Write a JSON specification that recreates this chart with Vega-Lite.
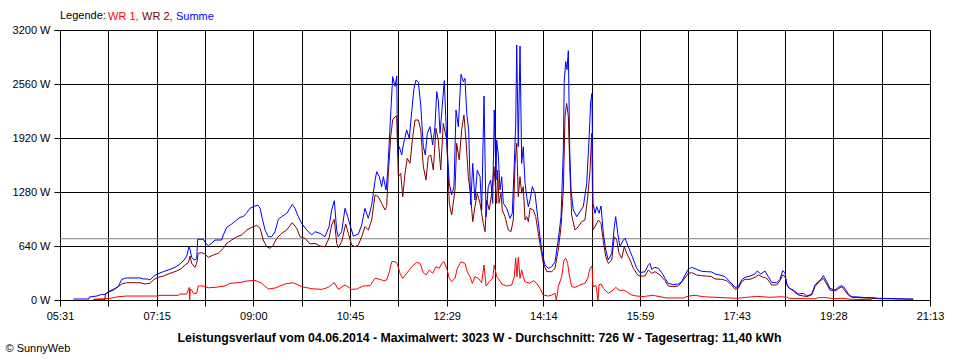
{
"$schema": "https://vega.github.io/schema/vega-lite/v6.json",
"width": 870, "height": 270,
"autosize": "none",
"padding": {"left": 60, "top": 30, "right": 30, "bottom": 60},
"background": "white",
"config": {"font": "Liberation Sans", "view": {"stroke": null}},
"datasets": {
"avg": [{"s": "Durchschnitt", "t": 331, "w": 726}, {"s": "Durchschnitt", "t": 1273, "w": 726}],
"wr1": [{"s":"WR 1","t":367.1,"w":8},{"s":"WR 1","t":385.1,"w":20},{"s":"WR 1","t":394.1,"w":39},{"s":"WR 1","t":403.2,"w":47},{"s":"WR 1","t":435.7,"w":47},{"s":"WR 1","t":439.3,"w":55},{"s":"WR 1","t":459.1,"w":55},{"s":"WR 1","t":460.9,"w":71},{"s":"WR 1","t":468.2,"w":71},{"s":"WR 1","t":471.0,"w":150},{"s":"WR 1","t":471.4,"w":0},{"s":"WR 1","t":472.1,"w":130},{"s":"WR 1","t":473.6,"w":118},{"s":"WR 1","t":475.3,"w":79},{"s":"WR 1","t":479.0,"w":79},{"s":"WR 1","t":480.7,"w":166},{"s":"WR 1","t":486.2,"w":166},{"s":"WR 1","t":491.6,"w":145},{"s":"WR 1","t":498.8,"w":150},{"s":"WR 1","t":509.7,"w":166},{"s":"WR 1","t":515.1,"w":198},{"s":"WR 1","t":524.1,"w":205},{"s":"WR 1","t":533.2,"w":225},{"s":"WR 1","t":542.1,"w":233},{"s":"WR 1","t":549.4,"w":198},{"s":"WR 1","t":556.5,"w":130},{"s":"WR 1","t":563.8,"w":142},{"s":"WR 1","t":574.6,"w":190},{"s":"WR 1","t":583.6,"w":205},{"s":"WR 1","t":592.7,"w":158},{"s":"WR 1","t":603.5,"w":134},{"s":"WR 1","t":614.4,"w":126},{"s":"WR 1","t":621.5,"w":150},{"s":"WR 1","t":628.0,"w":205},{"s":"WR 1","t":632.3,"w":126},{"s":"WR 1","t":639.6,"w":178},{"s":"WR 1","t":646.8,"w":126},{"s":"WR 1","t":652.3,"w":130},{"s":"WR 1","t":659.4,"w":166},{"s":"WR 1","t":666.7,"w":170},{"s":"WR 1","t":672.1,"w":257},{"s":"WR 1","t":677.5,"w":245},{"s":"WR 1","t":681.1,"w":229},{"s":"WR 1","t":684.7,"w":237},{"s":"WR 1","t":687.6,"w":336},{"s":"WR 1","t":690.2,"w":454},{"s":"WR 1","t":693.7,"w":454},{"s":"WR 1","t":696.2,"w":434},{"s":"WR 1","t":699.1,"w":316},{"s":"WR 1","t":702.1,"w":257},{"s":"WR 1","t":706.4,"w":316},{"s":"WR 1","t":711.8,"w":395},{"s":"WR 1","t":717.2,"w":446},{"s":"WR 1","t":720.8,"w":434},{"s":"WR 1","t":724.4,"w":324},{"s":"WR 1","t":727.3,"w":296},{"s":"WR 1","t":730.9,"w":356},{"s":"WR 1","t":734.5,"w":316},{"s":"WR 1","t":738.1,"w":395},{"s":"WR 1","t":741.7,"w":375},{"s":"WR 1","t":744.3,"w":434},{"s":"WR 1","t":746.8,"w":454},{"s":"WR 1","t":749.7,"w":375},{"s":"WR 1","t":752.5,"w":257},{"s":"WR 1","t":755.1,"w":217},{"s":"WR 1","t":758.7,"w":257},{"s":"WR 1","t":761.2,"w":375},{"s":"WR 1","t":765.2,"w":454},{"s":"WR 1","t":769.5,"w":434},{"s":"WR 1","t":772.0,"w":336},{"s":"WR 1","t":774.9,"w":277},{"s":"WR 1","t":777.4,"w":198},{"s":"WR 1","t":780.3,"w":277},{"s":"WR 1","t":783.9,"w":257},{"s":"WR 1","t":787.6,"w":205},{"s":"WR 1","t":790.1,"w":415},{"s":"WR 1","t":792.3,"w":166},{"s":"WR 1","t":795.8,"w":217},{"s":"WR 1","t":799.5,"w":257},{"s":"WR 1","t":801.2,"w":415},{"s":"WR 1","t":803.8,"w":277},{"s":"WR 1","t":806.7,"w":237},{"s":"WR 1","t":809.3,"w":190},{"s":"WR 1","t":814.7,"w":166},{"s":"WR 1","t":820.1,"w":178},{"s":"WR 1","t":822.9,"w":277},{"s":"WR 1","t":824.4,"w":494},{"s":"WR 1","t":825.8,"w":277},{"s":"WR 1","t":827.2,"w":506},{"s":"WR 1","t":829.1,"w":257},{"s":"WR 1","t":830.9,"w":356},{"s":"WR 1","t":832.6,"w":277},{"s":"WR 1","t":834.5,"w":217},{"s":"WR 1","t":839.9,"w":198},{"s":"WR 1","t":843.5,"w":229},{"s":"WR 1","t":847.2,"w":198},{"s":"WR 1","t":850.7,"w":138},{"s":"WR 1","t":854.3,"w":59},{"s":"WR 1","t":859.7,"w":47},{"s":"WR 1","t":863.4,"w":59},{"s":"WR 1","t":867.0,"w":79},{"s":"WR 1","t":868.4,"w":0},{"s":"WR 1","t":869.9,"w":100},{"s":"WR 1","t":870.5,"w":158},{"s":"WR 1","t":874.2,"w":277},{"s":"WR 1","t":876.7,"w":474},{"s":"WR 1","t":878.6,"w":494},{"s":"WR 1","t":880.7,"w":434},{"s":"WR 1","t":882.1,"w":316},{"s":"WR 1","t":885.0,"w":158},{"s":"WR 1","t":888.6,"w":150},{"s":"WR 1","t":894.0,"w":178},{"s":"WR 1","t":899.4,"w":198},{"s":"WR 1","t":902.4,"w":257},{"s":"WR 1","t":904.9,"w":375},{"s":"WR 1","t":907.0,"w":403},{"s":"WR 1","t":908.1,"w":158},{"s":"WR 1","t":911.4,"w":170},{"s":"WR 1","t":913.5,"w":0},{"s":"WR 1","t":914.6,"w":180},{"s":"WR 1","t":916.8,"w":190},{"s":"WR 1","t":919.3,"w":138},{"s":"WR 1","t":924.7,"w":79},{"s":"WR 1","t":930.1,"w":118},{"s":"WR 1","t":932.7,"w":150},{"s":"WR 1","t":937.3,"w":110},{"s":"WR 1","t":940.9,"w":118},{"s":"WR 1","t":944.6,"w":98},{"s":"WR 1","t":950.0,"w":59},{"s":"WR 1","t":955.4,"w":47},{"s":"WR 1","t":963.7,"w":39},{"s":"WR 1","t":966.3,"w":47},{"s":"WR 1","t":973.4,"w":55},{"s":"WR 1","t":980.7,"w":39},{"s":"WR 1","t":987.9,"w":24},{"s":"WR 1","t":1005.9,"w":24},{"s":"WR 1","t":1011.3,"w":47},{"s":"WR 1","t":1018.6,"w":55},{"s":"WR 1","t":1027.5,"w":39},{"s":"WR 1","t":1063.7,"w":20},{"s":"WR 1","t":1074.5,"w":32},{"s":"WR 1","t":1085.4,"w":43},{"s":"WR 1","t":1099.8,"w":32},{"s":"WR 1","t":1112.4,"w":39},{"s":"WR 1","t":1117.8,"w":32},{"s":"WR 1","t":1120.7,"w":20},{"s":"WR 1","t":1148.5,"w":14},{"s":"WR 1","t":1152.1,"w":28},{"s":"WR 1","t":1159.3,"w":28},{"s":"WR 1","t":1170.1,"w":16},{"s":"WR 1","t":1177.4,"w":20},{"s":"WR 1","t":1188.2,"w":8},{"s":"WR 1","t":1209.9,"w":4}],
"wr2": [{"s":"WR 2","t":367.8,"w":3},{"s":"WR 2","t":379.7,"w":3},{"s":"WR 2","t":380.0,"w":71},{"s":"WR 2","t":383.3,"w":91},{"s":"WR 2","t":388.7,"w":118},{"s":"WR 2","t":394.1,"w":158},{"s":"WR 2","t":397.8,"w":190},{"s":"WR 2","t":403.2,"w":205},{"s":"WR 2","t":417.6,"w":205},{"s":"WR 2","t":423.0,"w":190},{"s":"WR 2","t":428.4,"w":198},{"s":"WR 2","t":432.0,"w":237},{"s":"WR 2","t":436.4,"w":265},{"s":"WR 2","t":442.9,"w":284},{"s":"WR 2","t":450.1,"w":316},{"s":"WR 2","t":457.4,"w":344},{"s":"WR 2","t":462.8,"w":375},{"s":"WR 2","t":466.3,"w":415},{"s":"WR 2","t":469.9,"w":442},{"s":"WR 2","t":471.8,"w":521},{"s":"WR 2","t":473.6,"w":435},{"s":"WR 2","t":477.2,"w":387},{"s":"WR 2","t":479.0,"w":435},{"s":"WR 2","t":480.7,"w":553},{"s":"WR 2","t":484.4,"w":561},{"s":"WR 2","t":488.0,"w":545},{"s":"WR 2","t":491.6,"w":506},{"s":"WR 2","t":497.0,"w":533},{"s":"WR 2","t":502.4,"w":553},{"s":"WR 2","t":507.8,"w":612},{"s":"WR 2","t":511.5,"w":672},{"s":"WR 2","t":516.9,"w":711},{"s":"WR 2","t":522.3,"w":750},{"s":"WR 2","t":527.7,"w":770},{"s":"WR 2","t":533.2,"w":830},{"s":"WR 2","t":538.6,"w":861},{"s":"WR 2","t":544.0,"w":885},{"s":"WR 2","t":547.6,"w":850},{"s":"WR 2","t":551.1,"w":711},{"s":"WR 2","t":554.8,"w":632},{"s":"WR 2","t":558.4,"w":612},{"s":"WR 2","t":562.0,"w":652},{"s":"WR 2","t":565.6,"w":731},{"s":"WR 2","t":571.0,"w":790},{"s":"WR 2","t":576.5,"w":830},{"s":"WR 2","t":582.5,"w":916},{"s":"WR 2","t":587.3,"w":850},{"s":"WR 2","t":590.9,"w":750},{"s":"WR 2","t":596.3,"w":731},{"s":"WR 2","t":601.7,"w":664},{"s":"WR 2","t":607.1,"w":672},{"s":"WR 2","t":612.5,"w":640},{"s":"WR 2","t":617.9,"w":632},{"s":"WR 2","t":622.3,"w":731},{"s":"WR 2","t":625.2,"w":889},{"s":"WR 2","t":628.0,"w":956},{"s":"WR 2","t":630.6,"w":672},{"s":"WR 2","t":632.3,"w":620},{"s":"WR 2","t":636.0,"w":691},{"s":"WR 2","t":640.3,"w":901},{"s":"WR 2","t":643.2,"w":790},{"s":"WR 2","t":646.8,"w":652},{"s":"WR 2","t":650.4,"w":632},{"s":"WR 2","t":654.0,"w":652},{"s":"WR 2","t":657.7,"w":750},{"s":"WR 2","t":661.2,"w":869},{"s":"WR 2","t":664.8,"w":830},{"s":"WR 2","t":668.5,"w":948},{"s":"WR 2","t":672.1,"w":1245},{"s":"WR 2","t":675.6,"w":1225},{"s":"WR 2","t":679.3,"w":1146},{"s":"WR 2","t":682.9,"w":1067},{"s":"WR 2","t":684.7,"w":1106},{"s":"WR 2","t":686.5,"w":1501},{"s":"WR 2","t":689.1,"w":1936},{"s":"WR 2","t":691.2,"w":2133},{"s":"WR 2","t":693.7,"w":2173},{"s":"WR 2","t":695.6,"w":2181},{"s":"WR 2","t":697.3,"w":1462},{"s":"WR 2","t":699.9,"w":1501},{"s":"WR 2","t":702.1,"w":1225},{"s":"WR 2","t":704.6,"w":1501},{"s":"WR 2","t":707.0,"w":1679},{"s":"WR 2","t":710.0,"w":1620},{"s":"WR 2","t":712.9,"w":1936},{"s":"WR 2","t":715.4,"w":2133},{"s":"WR 2","t":719.0,"w":2133},{"s":"WR 2","t":721.6,"w":2015},{"s":"WR 2","t":724.4,"w":1580},{"s":"WR 2","t":727.3,"w":1422},{"s":"WR 2","t":729.8,"w":1699},{"s":"WR 2","t":732.4,"w":1719},{"s":"WR 2","t":735.2,"w":1541},{"s":"WR 2","t":738.1,"w":2035},{"s":"WR 2","t":740.6,"w":1896},{"s":"WR 2","t":743.2,"w":1541},{"s":"WR 2","t":746.0,"w":2094},{"s":"WR 2","t":749.7,"w":1896},{"s":"WR 2","t":752.5,"w":1146},{"s":"WR 2","t":755.1,"w":1007},{"s":"WR 2","t":758.7,"w":1304},{"s":"WR 2","t":760.5,"w":1857},{"s":"WR 2","t":763.3,"w":1660},{"s":"WR 2","t":765.9,"w":2015},{"s":"WR 2","t":768.4,"w":2193},{"s":"WR 2","t":770.6,"w":1896},{"s":"WR 2","t":773.1,"w":1462},{"s":"WR 2","t":775.7,"w":1225},{"s":"WR 2","t":777.9,"w":928},{"s":"WR 2","t":780.3,"w":1106},{"s":"WR 2","t":782.8,"w":1264},{"s":"WR 2","t":785.8,"w":1146},{"s":"WR 2","t":789.3,"w":909},{"s":"WR 2","t":791.2,"w":810},{"s":"WR 2","t":793.0,"w":1185},{"s":"WR 2","t":795.8,"w":1067},{"s":"WR 2","t":798.4,"w":1264},{"s":"WR 2","t":800.9,"w":1580},{"s":"WR 2","t":803.8,"w":1146},{"s":"WR 2","t":804.9,"w":1541},{"s":"WR 2","t":806.3,"w":1146},{"s":"WR 2","t":808.5,"w":1264},{"s":"WR 2","t":809.9,"w":1067},{"s":"WR 2","t":812.8,"w":988},{"s":"WR 2","t":816.4,"w":830},{"s":"WR 2","t":819.3,"w":810},{"s":"WR 2","t":821.8,"w":948},{"s":"WR 2","t":823.7,"w":1620},{"s":"WR 2","t":825.5,"w":1857},{"s":"WR 2","t":827.2,"w":1225},{"s":"WR 2","t":829.1,"w":1462},{"s":"WR 2","t":830.9,"w":1264},{"s":"WR 2","t":832.6,"w":1343},{"s":"WR 2","t":834.5,"w":948},{"s":"WR 2","t":836.3,"w":988},{"s":"WR 2","t":838.1,"w":928},{"s":"WR 2","t":839.9,"w":1087},{"s":"WR 2","t":843.5,"w":1067},{"s":"WR 2","t":846.1,"w":988},{"s":"WR 2","t":848.9,"w":790},{"s":"WR 2","t":851.8,"w":593},{"s":"WR 2","t":854.3,"w":434},{"s":"WR 2","t":858.0,"w":336},{"s":"WR 2","t":863.4,"w":336},{"s":"WR 2","t":867.0,"w":375},{"s":"WR 2","t":870.5,"w":593},{"s":"WR 2","t":873.5,"w":869},{"s":"WR 2","t":876.0,"w":1304},{"s":"WR 2","t":877.8,"w":2173},{"s":"WR 2","t":879.6,"w":2331},{"s":"WR 2","t":881.4,"w":2173},{"s":"WR 2","t":883.2,"w":1501},{"s":"WR 2","t":885.0,"w":1007},{"s":"WR 2","t":888.6,"w":830},{"s":"WR 2","t":892.2,"w":869},{"s":"WR 2","t":895.9,"w":928},{"s":"WR 2","t":899.4,"w":948},{"s":"WR 2","t":902.4,"w":1225},{"s":"WR 2","t":904.9,"w":1541},{"s":"WR 2","t":906.7,"w":1975},{"s":"WR 2","t":908.1,"w":830},{"s":"WR 2","t":910.3,"w":869},{"s":"WR 2","t":913.9,"w":948},{"s":"WR 2","t":916.8,"w":909},{"s":"WR 2","t":919.3,"w":691},{"s":"WR 2","t":921.9,"w":513},{"s":"WR 2","t":924.7,"w":434},{"s":"WR 2","t":928.4,"w":474},{"s":"WR 2","t":931.2,"w":750},{"s":"WR 2","t":933.8,"w":711},{"s":"WR 2","t":936.3,"w":553},{"s":"WR 2","t":939.2,"w":494},{"s":"WR 2","t":942.0,"w":632},{"s":"WR 2","t":944.6,"w":553},{"s":"WR 2","t":948.2,"w":474},{"s":"WR 2","t":951.8,"w":375},{"s":"WR 2","t":956.5,"w":296},{"s":"WR 2","t":959.0,"w":284},{"s":"WR 2","t":964.4,"w":284},{"s":"WR 2","t":968.0,"w":356},{"s":"WR 2","t":971.7,"w":316},{"s":"WR 2","t":975.2,"w":336},{"s":"WR 2","t":980.7,"w":296},{"s":"WR 2","t":986.1,"w":229},{"s":"WR 2","t":989.6,"w":166},{"s":"WR 2","t":995.1,"w":158},{"s":"WR 2","t":1000.5,"w":166},{"s":"WR 2","t":1005.9,"w":237},{"s":"WR 2","t":1011.3,"w":316},{"s":"WR 2","t":1015.0,"w":324},{"s":"WR 2","t":1020.4,"w":296},{"s":"WR 2","t":1025.8,"w":288},{"s":"WR 2","t":1031.2,"w":284},{"s":"WR 2","t":1036.6,"w":277},{"s":"WR 2","t":1040.2,"w":249},{"s":"WR 2","t":1047.5,"w":245},{"s":"WR 2","t":1052.9,"w":229},{"s":"WR 2","t":1058.3,"w":178},{"s":"WR 2","t":1061.9,"w":126},{"s":"WR 2","t":1065.4,"w":138},{"s":"WR 2","t":1069.1,"w":217},{"s":"WR 2","t":1072.7,"w":245},{"s":"WR 2","t":1078.1,"w":245},{"s":"WR 2","t":1083.5,"w":269},{"s":"WR 2","t":1087.1,"w":296},{"s":"WR 2","t":1092.5,"w":269},{"s":"WR 2","t":1096.2,"w":257},{"s":"WR 2","t":1101.6,"w":178},{"s":"WR 2","t":1107.0,"w":178},{"s":"WR 2","t":1110.6,"w":229},{"s":"WR 2","t":1113.5,"w":296},{"s":"WR 2","t":1116.0,"w":277},{"s":"WR 2","t":1118.5,"w":166},{"s":"WR 2","t":1120.7,"w":142},{"s":"WR 2","t":1125.0,"w":107},{"s":"WR 2","t":1130.4,"w":59},{"s":"WR 2","t":1139.5,"w":40},{"s":"WR 2","t":1144.9,"w":60},{"s":"WR 2","t":1148.5,"w":158},{"s":"WR 2","t":1152.1,"w":205},{"s":"WR 2","t":1157.5,"w":257},{"s":"WR 2","t":1161.2,"w":190},{"s":"WR 2","t":1164.7,"w":118},{"s":"WR 2","t":1170.1,"w":107},{"s":"WR 2","t":1177.4,"w":158},{"s":"WR 2","t":1184.5,"w":59},{"s":"WR 2","t":1188.2,"w":32},{"s":"WR 2","t":1202.6,"w":24},{"s":"WR 2","t":1217.0,"w":16},{"s":"WR 2","t":1231.5,"w":14},{"s":"WR 2","t":1254.9,"w":10}],
"summe": [{"s":"Summe","t":345.4,"w":12},{"s":"Summe","t":362.4,"w":12},{"s":"Summe","t":362.9,"w":36},{"s":"Summe","t":370.7,"w":47},{"s":"Summe","t":376.2,"w":67},{"s":"Summe","t":379.7,"w":67},{"s":"Summe","t":383.3,"w":99},{"s":"Summe","t":388.7,"w":126},{"s":"Summe","t":394.1,"w":158},{"s":"Summe","t":397.8,"w":245},{"s":"Summe","t":403.2,"w":261},{"s":"Summe","t":417.6,"w":261},{"s":"Summe","t":421.2,"w":249},{"s":"Summe","t":425.5,"w":249},{"s":"Summe","t":428.4,"w":237},{"s":"Summe","t":432.0,"w":277},{"s":"Summe","t":436.4,"w":308},{"s":"Summe","t":442.9,"w":336},{"s":"Summe","t":450.1,"w":363},{"s":"Summe","t":455.5,"w":387},{"s":"Summe","t":460.9,"w":427},{"s":"Summe","t":465.3,"w":474},{"s":"Summe","t":468.2,"w":521},{"s":"Summe","t":470.7,"w":632},{"s":"Summe","t":471.8,"w":600},{"s":"Summe","t":473.6,"w":506},{"s":"Summe","t":475.3,"w":482},{"s":"Summe","t":477.2,"w":474},{"s":"Summe","t":479.0,"w":490},{"s":"Summe","t":480.1,"w":719},{"s":"Summe","t":486.2,"w":720},{"s":"Summe","t":488.8,"w":672},{"s":"Summe","t":491.6,"w":644},{"s":"Summe","t":495.3,"w":672},{"s":"Summe","t":498.8,"w":711},{"s":"Summe","t":506.1,"w":711},{"s":"Summe","t":507.8,"w":770},{"s":"Summe","t":511.5,"w":861},{"s":"Summe","t":516.9,"w":901},{"s":"Summe","t":522.3,"w":948},{"s":"Summe","t":525.9,"w":980},{"s":"Summe","t":529.5,"w":988},{"s":"Summe","t":533.2,"w":1035},{"s":"Summe","t":536.7,"w":1087},{"s":"Summe","t":542.1,"w":1114},{"s":"Summe","t":545.1,"w":1126},{"s":"Summe","t":547.6,"w":1087},{"s":"Summe","t":550.0,"w":968},{"s":"Summe","t":553.0,"w":830},{"s":"Summe","t":556.5,"w":750},{"s":"Summe","t":560.2,"w":750},{"s":"Summe","t":563.8,"w":810},{"s":"Summe","t":567.4,"w":956},{"s":"Summe","t":571.0,"w":988},{"s":"Summe","t":576.5,"w":1027},{"s":"Summe","t":580.0,"w":1087},{"s":"Summe","t":582.5,"w":1134},{"s":"Summe","t":585.4,"w":1087},{"s":"Summe","t":589.0,"w":988},{"s":"Summe","t":592.7,"w":909},{"s":"Summe","t":598.1,"w":830},{"s":"Summe","t":603.5,"w":770},{"s":"Summe","t":607.1,"w":810},{"s":"Summe","t":612.5,"w":790},{"s":"Summe","t":617.9,"w":750},{"s":"Summe","t":622.3,"w":869},{"s":"Summe","t":625.2,"w":1067},{"s":"Summe","t":628.0,"w":1177},{"s":"Summe","t":630.6,"w":830},{"s":"Summe","t":632.3,"w":750},{"s":"Summe","t":636.0,"w":810},{"s":"Summe","t":639.6,"w":1087},{"s":"Summe","t":642.5,"w":988},{"s":"Summe","t":646.1,"w":850},{"s":"Summe","t":648.6,"w":758},{"s":"Summe","t":654.0,"w":780},{"s":"Summe","t":657.7,"w":889},{"s":"Summe","t":661.2,"w":1087},{"s":"Summe","t":664.8,"w":968},{"s":"Summe","t":668.5,"w":1126},{"s":"Summe","t":672.1,"w":1414},{"s":"Summe","t":673.9,"w":1521},{"s":"Summe","t":676.7,"w":1462},{"s":"Summe","t":679.3,"w":1343},{"s":"Summe","t":681.1,"w":1462},{"s":"Summe","t":684.0,"w":1304},{"s":"Summe","t":685.8,"w":1521},{"s":"Summe","t":687.6,"w":1896},{"s":"Summe","t":689.4,"w":2272},{"s":"Summe","t":691.2,"w":2647},{"s":"Summe","t":693.7,"w":2530},{"s":"Summe","t":695.6,"w":2655},{"s":"Summe","t":696.6,"w":1738},{"s":"Summe","t":698.4,"w":1817},{"s":"Summe","t":701.0,"w":1719},{"s":"Summe","t":702.7,"w":1837},{"s":"Summe","t":706.4,"w":2015},{"s":"Summe","t":709.2,"w":1915},{"s":"Summe","t":711.8,"w":2232},{"s":"Summe","t":714.3,"w":2509},{"s":"Summe","t":716.5,"w":2607},{"s":"Summe","t":719.0,"w":2580},{"s":"Summe","t":721.6,"w":2311},{"s":"Summe","t":724.4,"w":1817},{"s":"Summe","t":726.5,"w":1719},{"s":"Summe","t":728.7,"w":1975},{"s":"Summe","t":731.6,"w":2054},{"s":"Summe","t":734.5,"w":1837},{"s":"Summe","t":737.0,"w":2054},{"s":"Summe","t":738.9,"w":2469},{"s":"Summe","t":740.6,"w":2370},{"s":"Summe","t":742.5,"w":1975},{"s":"Summe","t":745.4,"w":2370},{"s":"Summe","t":747.1,"w":2600},{"s":"Summe","t":749.7,"w":1896},{"s":"Summe","t":752.5,"w":1383},{"s":"Summe","t":755.1,"w":1245},{"s":"Summe","t":757.6,"w":1343},{"s":"Summe","t":759.8,"w":2252},{"s":"Summe","t":762.3,"w":2054},{"s":"Summe","t":765.2,"w":2675},{"s":"Summe","t":767.7,"w":2587},{"s":"Summe","t":769.5,"w":2627},{"s":"Summe","t":771.4,"w":2212},{"s":"Summe","t":773.5,"w":2015},{"s":"Summe","t":775.7,"w":1126},{"s":"Summe","t":777.9,"w":1620},{"s":"Summe","t":780.3,"w":1185},{"s":"Summe","t":782.8,"w":1541},{"s":"Summe","t":785.8,"w":1462},{"s":"Summe","t":787.6,"w":1067},{"s":"Summe","t":790.1,"w":2418},{"s":"Summe","t":792.3,"w":988},{"s":"Summe","t":794.7,"w":1343},{"s":"Summe","t":797.3,"w":1422},{"s":"Summe","t":799.5,"w":1146},{"s":"Summe","t":801.2,"w":2252},{"s":"Summe","t":803.1,"w":1422},{"s":"Summe","t":803.8,"w":1896},{"s":"Summe","t":805.6,"w":1719},{"s":"Summe","t":807.4,"w":1304},{"s":"Summe","t":809.3,"w":1462},{"s":"Summe","t":811.0,"w":1146},{"s":"Summe","t":814.7,"w":1087},{"s":"Summe","t":818.2,"w":968},{"s":"Summe","t":820.7,"w":1027},{"s":"Summe","t":822.9,"w":1620},{"s":"Summe","t":824.4,"w":2074},{"s":"Summe","t":825.5,"w":3022},{"s":"Summe","t":827.2,"w":1817},{"s":"Summe","t":829.1,"w":3010},{"s":"Summe","t":830.9,"w":1620},{"s":"Summe","t":832.6,"w":1817},{"s":"Summe","t":834.5,"w":1383},{"s":"Summe","t":836.3,"w":1225},{"s":"Summe","t":838.1,"w":1106},{"s":"Summe","t":839.9,"w":1185},{"s":"Summe","t":842.4,"w":1343},{"s":"Summe","t":845.3,"w":1264},{"s":"Summe","t":848.2,"w":988},{"s":"Summe","t":850.7,"w":750},{"s":"Summe","t":853.2,"w":553},{"s":"Summe","t":856.1,"w":415},{"s":"Summe","t":859.7,"w":375},{"s":"Summe","t":863.4,"w":395},{"s":"Summe","t":867.0,"w":454},{"s":"Summe","t":870.5,"w":711},{"s":"Summe","t":873.5,"w":988},{"s":"Summe","t":876.0,"w":1778},{"s":"Summe","t":877.0,"w":2607},{"s":"Summe","t":878.6,"w":2825},{"s":"Summe","t":880.0,"w":2730},{"s":"Summe","t":881.4,"w":2955},{"s":"Summe","t":882.9,"w":1778},{"s":"Summe","t":884.3,"w":1304},{"s":"Summe","t":886.8,"w":1067},{"s":"Summe","t":890.5,"w":988},{"s":"Summe","t":894.0,"w":1047},{"s":"Summe","t":897.6,"w":1106},{"s":"Summe","t":901.3,"w":1383},{"s":"Summe","t":903.8,"w":1896},{"s":"Summe","t":905.6,"w":2350},{"s":"Summe","t":907.0,"w":2449},{"s":"Summe","t":908.1,"w":1146},{"s":"Summe","t":910.3,"w":1027},{"s":"Summe","t":912.1,"w":1106},{"s":"Summe","t":914.6,"w":1027},{"s":"Summe","t":916.8,"w":1114},{"s":"Summe","t":919.3,"w":790},{"s":"Summe","t":921.9,"w":593},{"s":"Summe","t":924.7,"w":474},{"s":"Summe","t":928.4,"w":553},{"s":"Summe","t":931.2,"w":869},{"s":"Summe","t":932.7,"w":988},{"s":"Summe","t":934.9,"w":790},{"s":"Summe","t":937.3,"w":632},{"s":"Summe","t":940.9,"w":711},{"s":"Summe","t":942.8,"w":731},{"s":"Summe","t":946.3,"w":632},{"s":"Summe","t":950.7,"w":513},{"s":"Summe","t":955.4,"w":375},{"s":"Summe","t":959.0,"w":324},{"s":"Summe","t":964.4,"w":336},{"s":"Summe","t":968.0,"w":415},{"s":"Summe","t":969.8,"w":434},{"s":"Summe","t":971.7,"w":363},{"s":"Summe","t":975.2,"w":387},{"s":"Summe","t":978.8,"w":375},{"s":"Summe","t":982.5,"w":324},{"s":"Summe","t":986.1,"w":257},{"s":"Summe","t":989.6,"w":198},{"s":"Summe","t":995.1,"w":182},{"s":"Summe","t":1000.5,"w":190},{"s":"Summe","t":1004.2,"w":217},{"s":"Summe","t":1007.7,"w":296},{"s":"Summe","t":1011.3,"w":363},{"s":"Summe","t":1015.0,"w":387},{"s":"Summe","t":1020.4,"w":363},{"s":"Summe","t":1025.8,"w":340},{"s":"Summe","t":1031.2,"w":336},{"s":"Summe","t":1036.6,"w":332},{"s":"Summe","t":1040.2,"w":308},{"s":"Summe","t":1045.6,"w":296},{"s":"Summe","t":1051.0,"w":277},{"s":"Summe","t":1056.4,"w":217},{"s":"Summe","t":1061.9,"w":150},{"s":"Summe","t":1065.4,"w":158},{"s":"Summe","t":1069.1,"w":237},{"s":"Summe","t":1072.7,"w":269},{"s":"Summe","t":1078.1,"w":284},{"s":"Summe","t":1083.5,"w":308},{"s":"Summe","t":1086.0,"w":344},{"s":"Summe","t":1089.7,"w":308},{"s":"Summe","t":1094.3,"w":344},{"s":"Summe","t":1097.9,"w":277},{"s":"Summe","t":1101.6,"w":209},{"s":"Summe","t":1107.0,"w":205},{"s":"Summe","t":1110.6,"w":245},{"s":"Summe","t":1113.5,"w":348},{"s":"Summe","t":1116.0,"w":324},{"s":"Summe","t":1117.8,"w":190},{"s":"Summe","t":1120.7,"w":138},{"s":"Summe","t":1125.0,"w":118},{"s":"Summe","t":1130.4,"w":71},{"s":"Summe","t":1135.8,"w":79},{"s":"Summe","t":1139.5,"w":47},{"s":"Summe","t":1144.9,"w":71},{"s":"Summe","t":1148.5,"w":178},{"s":"Summe","t":1152.1,"w":217},{"s":"Summe","t":1155.0,"w":245},{"s":"Summe","t":1157.5,"w":288},{"s":"Summe","t":1161.2,"w":217},{"s":"Summe","t":1164.7,"w":138},{"s":"Summe","t":1170.1,"w":118},{"s":"Summe","t":1173.7,"w":150},{"s":"Summe","t":1177.4,"w":170},{"s":"Summe","t":1181.0,"w":138},{"s":"Summe","t":1184.5,"w":71},{"s":"Summe","t":1188.2,"w":39},{"s":"Summe","t":1195.4,"w":36},{"s":"Summe","t":1202.6,"w":28},{"s":"Summe","t":1209.9,"w":30},{"s":"Summe","t":1217.0,"w":20},{"s":"Summe","t":1231.5,"w":18},{"s":"Summe","t":1245.9,"w":12},{"s":"Summe","t":1254.9,"w":10}]
},
"encoding": {
  "x": {"field": "t", "type": "quantitative",
    "scale": {"domain": [331, 1273], "nice": false, "zero": false},
    "axis": {"values": [331, 383.3333, 435.6667, 488, 540.3333, 592.6667, 645, 697.3333, 749.6667, 802, 854.3333, 906.6667, 959, 1011.3333, 1063.6667, 1116, 1168.3333, 1220.6667, 1273],
      "labelExpr": "round((datum.value - 331) / 52.33333) % 2 == 1 ? '' : (floor(datum.value / 60) < 10 ? '0' : '') + floor(datum.value / 60) + ':' + (floor(datum.value % 60) < 10 ? '0' : '') + floor(datum.value % 60)",
      "grid": true, "gridColor": "#000000", "gridOpacity": 1, "gridWidth": 1,
      "domainColor": "#000000", "tickColor": "#000000", "tickSize": 6,
      "labelColor": "#000000", "labelFontSize": 11, "labelPadding": 4, "labelFlush": false, "labelOverlap": false,
      "title": "Leistungsverlauf vom 04.06.2014 - Maximalwert: 3023 W - Durchschnitt: 726 W - Tagesertrag: 11,40 kWh",
      "titleFontSize": 12.3, "titleFontWeight": "bold", "titleColor": "#000000",
      "titleX": 419, "titleY": 37, "titleAlign": "center", "titleBaseline": "middle"}},
  "y": {"field": "w", "type": "quantitative",
    "scale": {"domain": [0, 3200], "nice": false},
    "axis": {"values": [0, 640, 1280, 1920, 2560, 3200],
      "labelExpr": "datum.value + ' W'",
      "grid": true, "gridColor": "#000000", "gridOpacity": 1, "gridWidth": 1,
      "domainColor": "#000000", "tickColor": "#000000", "tickSize": 6,
      "labelColor": "#000000", "labelFontSize": 11, "labelPadding": 4, "labelFlush": false, "labelOverlap": false,
      "title": "© SunnyWeb", "titleAngle": 0, "titleX": -55, "titleY": 318,
      "titleAlign": "left", "titleBaseline": "middle", "titleFontSize": 11, "titleFontWeight": "normal", "titleColor": "#000000"}},
  "color": {"field": "s", "type": "nominal",
    "scale": {"domain": ["WR 1", "WR 2", "Summe"], "range": ["#ff0000", "#800000", "#0000ff"]},
    "legend": {"orient": "none", "legendX": 0, "legendY": -19, "direction": "horizontal",
      "title": "Legende:", "titleOrient": "left", "titleFontWeight": "normal", "titleFontSize": 11, "titleColor": "#000000", "titlePadding": 3,
      "labelFontSize": 11, "labelOffset": -12, "symbolSize": 1, "symbolStrokeWidth": 0, "symbolOpacity": 0, "columnPadding": 3,
      "labelExpr": "datum.label == 'Summe' ? datum.label : datum.label + ','",
      "encode": {"labels": {"update": {"fill": {"scale": "color", "field": "value"}}}}}}
},
"layer": [
  {"data": {"name": "avg"},
   "mark": {"type": "line", "strokeWidth": 1},
   "encoding": {"color": {"value": "#808080"}}},
  {"data": {"name": "wr1"},
   "mark": {"type": "line", "strokeWidth": 1}},
  {"data": {"name": "wr2"},
   "mark": {"type": "line", "strokeWidth": 1}},
  {"data": {"name": "summe"},
   "mark": {"type": "line", "strokeWidth": 1}}
]
}
